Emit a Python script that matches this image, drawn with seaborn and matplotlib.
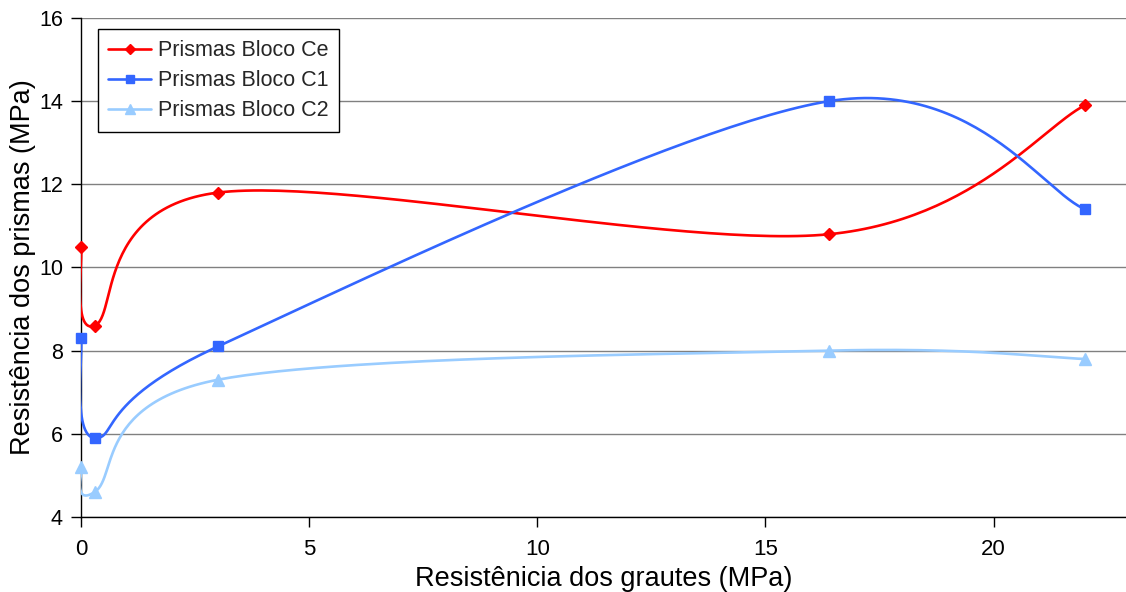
import numpy as np
import pandas as pd
import matplotlib
matplotlib.use("Agg")
import matplotlib.pyplot as plt
from matplotlib.lines import Line2D
import seaborn as sns

# ---- data ----
x_graute = [0.0, 0.3, 3.0, 16.4, 22.0]
prisma_ce = [10.5, 8.6, 11.8, 10.8, 13.9]
prisma_c1 = [8.3, 5.9, 8.1, 14.0, 11.4]
prisma_c2 = [5.2, 4.6, 7.3, 8.0, 7.8]
series_names = ["Prismas Bloco Ce", "Prismas Bloco C1", "Prismas Bloco C2"]
y_ticks = [4, 6, 8, 10, 12, 14, 16]
x_ticks = [0, 5, 10, 15, 20]

colors = ["#FF0000", "#3366FF", "#99CCFF"]
markers = ["D", "s", "^"]
msizes = [6.5, 7.5, 8.5]

sns.set_theme(style="white")
plt.rcParams['font.family'] = ['Liberation Sans', 'DejaVu Sans']


def smooth(xs, ys, n=60):
    """Excel-like smoothed line (Catmull-Rom Bezier through the points)."""
    P = np.column_stack([xs, ys]).astype(float)
    m = len(P)
    out = []
    for i in range(m - 1):
        p0 = P[i - 1] if i > 0 else P[i]
        p1 = P[i]
        p2 = P[i + 1]
        p3 = P[i + 2] if i + 2 < m else P[i + 1]
        c1 = p1 + (p2 - p0) / 6.0
        c2 = p2 - (p3 - p1) / 6.0
        t = np.linspace(0, 1, n)[:, None]
        seg = ((1 - t) ** 3) * p1 + 3 * ((1 - t) ** 2) * t * c1 + 3 * (1 - t) * t ** 2 * c2 + t ** 3 * p2
        if i > 0:
            seg = seg[1:]
        out.append(seg)
    out = np.vstack(out)
    return out[:, 0], out[:, 1]


fig = plt.figure(figsize=(11.26, 5.92), dpi=100)
ax = fig.add_axes([0.0719, 0.1267, 0.9281, 0.843])

handles = []
for name, ys, col, mk, ms in zip(series_names, [prisma_ce, prisma_c1, prisma_c2], colors, markers, msizes):
    sx, sy = smooth(x_graute, ys)
    df_line = pd.DataFrame({"x": sx, "y": sy})
    sns.lineplot(data=df_line, x="x", y="y", sort=False, estimator=None, ax=ax,
                 color=col, linewidth=1.9, zorder=3)
    df_pts = pd.DataFrame({"x": x_graute, "y": ys})
    ax.plot(df_pts["x"], df_pts["y"], linestyle="none", marker=mk, markersize=ms,
            color=col, markeredgecolor=col, zorder=4, clip_on=False)
    handles.append(Line2D([0], [0], color=col, lw=1.9, marker=mk, markersize=ms - 1.5,
                          markeredgecolor=col, label=name))

ax.set_xlim(0, 22.9)
ax.set_ylim(4, 16)
ax.set_yticks(y_ticks)
ax.set_xticks(x_ticks)
ax.grid(axis="y", color="#808080", linewidth=1.0)
ax.grid(axis="x", visible=False)
ax.set_axisbelow(True)

for s in ["top", "right"]:
    ax.spines[s].set_visible(False)
for s in ["left", "bottom"]:
    ax.spines[s].set_color("black")
    ax.spines[s].set_linewidth(1.0)

ax.tick_params(axis="both", which="major", direction="out", length=7, width=1,
               color="black", labelcolor="black", left=True, bottom=True)
for lab in ax.get_yticklabels():
    lab.set_fontsize(15.5)
for lab in ax.get_xticklabels():
    lab.set_fontsize(16)
ax.tick_params(axis="x", pad=9)
ax.tick_params(axis="y", pad=6)

ax.set_xlabel("Resistênicia dos grautes (MPa)", fontsize=19.5, color="black", labelpad=4)
ax.set_ylabel("Resistência dos prismas (MPa)", fontsize=19.5, color="black", labelpad=2)

leg = ax.legend(handles=handles, loc="upper left", bbox_to_anchor=(0.016, 0.977),
                prop={"size": 15.5}, frameon=True, fancybox=False, edgecolor="black",
                handlelength=2.0, handletextpad=0.3, borderpad=0.5, labelspacing=0.42,
                borderaxespad=0)
leg.get_frame().set_linewidth(1.0)
leg.get_frame().set_facecolor("white")
leg.get_frame().set_alpha(1)

fig.savefig("out.png", dpi=100, facecolor="white")
